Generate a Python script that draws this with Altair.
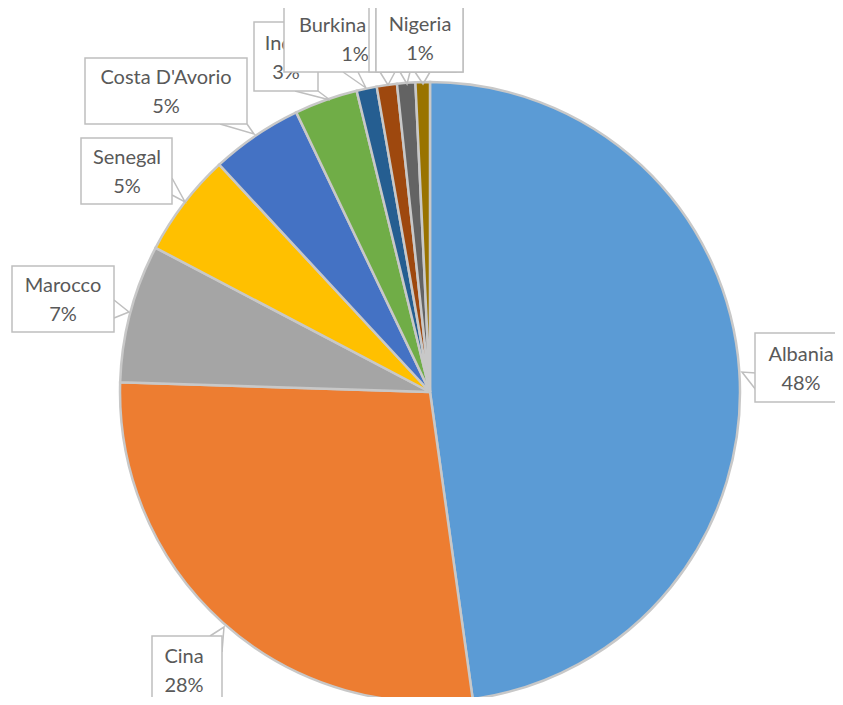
import altair as alt
import pandas as pd

# ---- data ----
names = ["Albania", "Cina", "Marocco", "Senegal", "Costa D'Avorio", "India",
         "Burkina Faso", "Ghana", "Tunisia", "Nigeria"]
values = [47.8, 27.7, 7.2, 5.4, 4.8, 3.3, 1.05, 1.05, 0.95, 0.75]
pct_labels = ["48%", "28%", "7%", "5%", "5%", "3%", "1%", "1%", "1%", "1%"]
colors = ["#5B9BD5", "#ED7D31", "#A5A5A5", "#FFC000", "#4472C4", "#70AD47",
          "#255E91", "#9E480E", "#636363", "#997300"]

# ---- layout (screen pixels of the reference, page margin included) ----
OFF = 8
W, H = 827, 689
CX, CY, R = 430, 392, 310
# box: x1, x2, y1, y2 ; pointer: base1, tip, base2
box_layout = {
    "Albania":        (755, 850, 333, 402, [(756, 373), (742, 372), (756, 390)]),
    "Cina":           (152, 222, 636, 703, [(210, 636), (224, 627), (222, 652)]),
    "Marocco":        (12, 114, 266, 332, [(114, 300), (129, 312), (114, 318)]),
    "Senegal":        (81, 172, 138, 204, [(172, 178), (185, 202), (172, 195)]),
    "Costa D'Avorio": (85, 247, 58, 124, [(220, 124), (254, 134), (247, 124)]),
    "India":          (254, 318, 22, 91, [(295, 91), (330, 100), (318, 91)]),
    "Burkina Faso":   (284, 426, 5, 72, [(343, 72), (366, 88), (358, 72)]),
    "Ghana":          (369, 456, 5, 72, [(380, 72), (388, 85), (395, 72)]),
    "Tunisia":        (376, 463, 3, 72, [(400, 72), (407, 84), (410, 72)]),
    "Nigeria":        (376, 463, 3, 72, [(415, 72), (423, 84), (430, 72)]),
}
text_cx = {"Albania": 801, "Cina": 184, "Marocco": 63, "Senegal": 127,
           "Costa D'Avorio": 166, "India": 286, "Burkina Faso": 355,
           "Nigeria": 420}
draw_order = ["Albania", "Cina", "Marocco", "Senegal", "Costa D'Avorio",
              "India", "Burkina Faso", "Ghana", "Tunisia", "Nigeria"]

slices = pd.DataFrame({"name": names, "value": values,
                       "order": list(range(len(names)))})

xs = alt.Scale(domain=[0, W], nice=False, zero=False)
ys = alt.Scale(domain=[0, H], nice=False, zero=False, reverse=True)

pie = alt.Chart(slices).mark_arc(
    radius=R, stroke="#C8C8C8", strokeWidth=2.5
).encode(
    theta=alt.Theta("value:Q", stack=True),
    order=alt.Order("order:Q"),
    color=alt.Color("name:N", scale=alt.Scale(domain=names, range=colors), legend=None),
    x=alt.value(CX - OFF), y=alt.value(CY - OFF),
)

layers = [pie]
for nm in draw_order:
    i = names.index(nm)
    x1, x2, y1, y2, ptr = box_layout[nm]
    pdf = pd.DataFrame({"k": [0, 1, 2],
                        "x": [p[0] - OFF for p in ptr],
                        "y": [p[1] - OFF for p in ptr]})
    pointer = alt.Chart(pdf).mark_line(color="#BFBFBF", strokeWidth=1.5).encode(
        x=alt.X("x:Q", scale=xs, axis=None),
        y=alt.Y("y:Q", scale=ys, axis=None),
        order="k:Q",
    )
    bdf = pd.DataFrame({"x1": [x1 - OFF], "x2": [x2 - OFF],
                        "y1": [y1 - OFF], "y2": [y2 - OFF]})
    box = alt.Chart(bdf).mark_rect(fill="white", stroke="#BFBFBF", strokeWidth=1.5).encode(
        x=alt.X("x1:Q", scale=xs, axis=None), x2="x2:Q",
        y=alt.Y("y1:Q", scale=ys, axis=None), y2="y2:Q",
    )
    layers += [pointer, box]
    if nm in text_cx:  # labels fully hidden under other boxes are not drawn
        c = (y1 + y2) / 2
        tdf = pd.DataFrame({"x": [text_cx[nm] - OFF] * 2,
                            "y": [c - 13 - OFF, c + 16 - OFF],
                            "t": [nm, pct_labels[i]]})
        txt = alt.Chart(tdf).mark_text(font="Lato", fontSize=20, color="#595959",
                                       align="center", baseline="middle").encode(
            x=alt.X("x:Q", scale=xs, axis=None),
            y=alt.Y("y:Q", scale=ys, axis=None),
            text="t:N",
        )
        layers.append(txt)

chart = alt.layer(*layers).properties(
    width=W, height=H, padding=0,
    autosize=alt.AutoSizeParams(type="none"),
).configure_view(stroke=None)

chart.save("out.html", embed_options={"renderer": "svg", "actions": False})
